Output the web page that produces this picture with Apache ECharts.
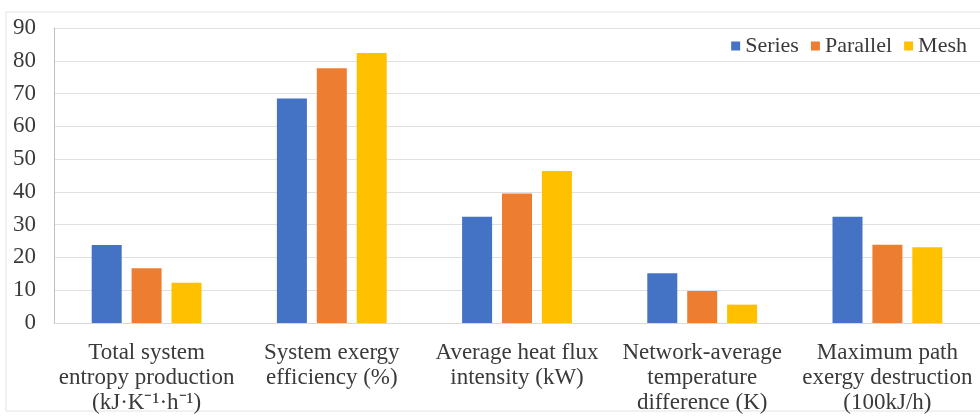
<!DOCTYPE html>
<html><head><meta charset="utf-8">
<script src="https://cdn.jsdelivr.net/npm/echarts@6/dist/echarts.min.js"></script>
<style>html,body{margin:0;padding:0;background:#fff}#c{width:980px;height:417px}</style>
</head><body><div id="c"></div>
<script>
const categories = [
  "Total system\nentropy production\n(kJ·K\u207B\u00B9·h\u207B\u00B9)",
  "System exergy\nefficiency (%)",
  "Average heat flux\nintensity (kW)",
  "Network-average\ntemperature\ndifference (K)",
  "Maximum path\nexergy destruction\n(100kJ/h)"
];
const seriesNames = ["Series", "Parallel", "Mesh"];
const seriesVals = [23.8, 68.5, 32.4, 15.2, 32.4];
const parallelVals = [16.7, 77.7, 39.5, 9.8, 23.9];
const meshVals = [12.3, 82.4, 46.4, 5.6, 23.1];
const yTicks = [0, 10, 20, 30, 40, 50, 60, 70, 80, 90];
const colors = ["#4472C4", "#ED7D31", "#FFC000"];

const chart = echarts.init(document.getElementById('c'), null, {renderer: 'canvas'});
const font = "Liberation Serif";
const data = [seriesVals, parallelVals, meshVals];
chart.setOption({
  animation: false,
  textStyle: {fontFamily: font},
  graphic: [{
    type: 'rect', shape: {x: 6, y: 12, width: 990, height: 399},
    style: {fill: null, stroke: '#e3e3e3', lineWidth: 1}, silent: true
  }],
  legend: {
    data: seriesNames, right: 8, top: 30,
    itemWidth: 9, itemHeight: 9, itemGap: 12, icon: 'rect',
    textStyle: {fontFamily: font, fontSize: 22, color: '#3a3a3a', padding: [0, 0, 0, 0]}
  },
  grid: {left: 54, right: -2, top: 28, bottom: 94, containLabel: false},
  xAxis: {
    type: 'category', data: categories,
    axisLine: {show: true, lineStyle: {color: '#d9d9d9'}},
    axisTick: {show: false},
    axisLabel: {fontFamily: font, fontSize: 23, color: '#3a3a3a', lineHeight: 25, margin: 17, interval: 0}
  },
  yAxis: {
    type: 'value', min: yTicks[0], max: yTicks[yTicks.length - 1], interval: 10,
    axisLine: {show: true, lineStyle: {color: '#bfbfbf'}},
    axisTick: {show: false},
    splitLine: {lineStyle: {color: '#e0e0e0'}},
    axisLabel: {fontFamily: font, fontSize: 23, color: '#3a3a3a', margin: 18}
  },
  series: seriesNames.map((n, i) => ({
    name: n, type: 'bar', data: data[i], barWidth: 30, barGap: '33%',
    itemStyle: {color: colors[i]}
  }))
});
</script></body></html>
